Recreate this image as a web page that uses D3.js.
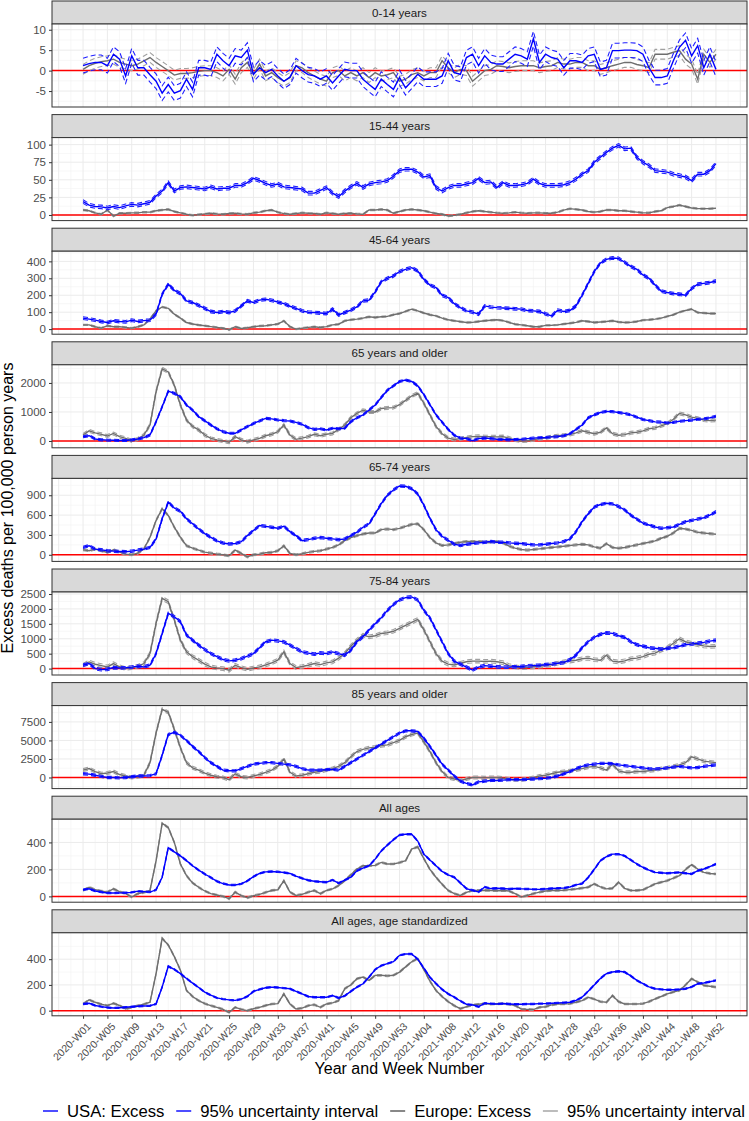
<!DOCTYPE html>
<html><head><meta charset="utf-8">
<script src="https://cdn.jsdelivr.net/npm/d3@7"></script>
<style>
body{margin:0;background:#fff}
svg{display:block}
text{font-family:"Liberation Sans",Arial,Helvetica,sans-serif}
</style>
</head><body>
<svg id="chart" width="749" height="1121"></svg>
<script>
// ---------- categories ----------
const weeks = [];
for (let w = 1; w <= 53; w++) weeks.push("2020-W" + String(w).padStart(2, "0"));
for (let w = 1; w <= 52; w++) weeks.push("2021-W" + String(w).padStart(2, "0"));

const tickLabels = ["2020-W01","2020-W05","2020-W09","2020-W13","2020-W17","2020-W21","2020-W25",
  "2020-W29","2020-W33","2020-W37","2020-W41","2020-W45","2020-W49","2020-W53","2021-W04",
  "2021-W08","2021-W12","2021-W16","2021-W20","2021-W24","2021-W28","2021-W32","2021-W36",
  "2021-W40","2021-W44","2021-W48","2021-W52"];

const panelTitles = ["0-14 years","15-44 years","45-64 years","65 years and older","65-74 years",
  "75-84 years","85 years and older","All ages","All ages, age standardized"];

const seriesNames = ["USA: Excess","95% uncertainty interval","Europe: Excess","95% uncertainty interval"];

// ---------- series values (excess deaths per 100,000 person years) ----------
const usa_0_14 = [1.2,1.7,2,2,1.2,4,2.8,-1.3,3.6,0.7,
 0.7,-1,-2.6,-5.5,-3.4,-5.5,-4.9,-2.1,-4.6,0.7,
 0.7,0.3,4,2.4,1.2,3.6,3.2,5,-0.9,0.7,
 -0.5,0.3,-1.3,-2.6,-1.6,1.2,0,-1,-1.3,-2.1,
 -1.3,-3,-1.3,0.3,0,0,-2.1,-3.4,-4.6,-2.1,
 -3.4,-4.6,-1.7,-4.2,-2.6,-0.9,-2.1,-2.1,-2.1,-1.3,
 2.4,-0.5,-0.9,3.2,4,1.2,3.6,2,1.6,1.6,
 2.8,4,3.6,2.8,7.8,2,4,3.2,2.8,0.7,
 2.4,2.4,2,3.6,4,0.3,0.7,4.9,4.9,5,
 5,4.9,4,0.7,-1.7,-1.7,-1.3,2.4,5.7,7.4,
 3.6,6.1,0.7,4,0.3];
const eur_0_14 = [0.3,1.2,1.8,2.2,2.4,2.8,2,1.6,1.2,1.6,
 2.4,3.2,2,1,0,-1.1,-0.7,-0.7,-0.5,-0.2,
 0,0,-0.5,-1.3,0.3,-2.1,0.7,2,-0.9,1.6,
 -1.3,-0.5,-1.7,-2.6,-1.7,1.2,0.7,-0.5,-1.3,-2.1,
 -2.6,-0.5,0,-1.3,-0.5,-1.3,-0.5,-1.7,-0.5,-1.3,
 -1,-0.5,-2.6,-2.1,-1,-0.5,-1.3,-0.5,-0.5,2.4,
 0.7,-0.5,0.3,0,-2.6,-1.3,0,0.3,1.2,1,
 0.7,1,1.2,1.2,1.2,0.7,1,1.2,2,1.6,
 1.6,2,2,1.2,1.2,0.3,0.7,1.2,1.6,2,
 2,1.5,1.2,0.7,4,4,4,4.5,4.9,2.8,
 1.6,-2.1,4,2,4];

const usa_15_44 = [19,14,12,11.5,10,12,10.5,13,15,14,
 16,18,27,34,46,34,39,40,39,38,
 37,40,37,38,38,42,42,46,52,49,
 45,42,44,40,39,38,37,31,31,35,
 39,31,26,34,40,45,39,44,46,47,
 49,55,63,65,65,61,54,56,39,34,
 39,42,42,44,46,52,46,47,39,46,
 42,42,43,45,51,45,42,42,42,43,
 46,51,58,63,75,82,89,95,99,94,
 95,82,75,70,63,62,61,58,56,54,
 49,58,58,63,73];
const eur_15_44 = [7,6,3,1,7,-1.5,2.4,2.4,3,3,
 4,4,6,7,8,5,3,1,-0.5,0.5,
 1.5,2.4,1.5,1,2,2.4,1.5,1,3,4,
 6,7,4,2,1,2,3,2.4,2,1,
 3,2,1,2,2.4,1.5,1,7,7,8,
 7,2.4,5,7,8,7,6,4,2,1,
 -1.5,-0.5,1,3,5,6,5,4,3,2.4,
 3,4,3,2.4,3,3,2.4,2.4,4,7,
 9,8,7,5,4,5,7,7,6,6,
 5,4,3,3,5,6,10.5,12,14,12,
 10,9,9,9,9.5];

const usa_45_64 = [65,59,53,45,39,49,45,43,53,45,
 50,53,88,206,265,229,210,167,157,140,
 123,104,98,104,98,108,137,167,157,171,
 176,170,160,151,135,123,108,100,98,95,
 92,118,84,98,112,131,167,171,220,280,
 300,314,340,353,363,343,294,260,245,200,
 186,150,127,108,100,88,137,130,127,125,
 123,120,118,110,108,104,90,78,112,104,
 110,137,200,270,340,390,412,420,418,395,
 370,353,320,300,260,225,216,210,206,200,
 240,265,270,275,284];
const eur_45_64 = [25,25,14,6,20,14,14,10,6,14,
 25,59,108,131,123,88,65,39,30,24,
 20,15,10,5,-4,14,4,8,14,18,
 20,25,30,49,14,0,6,10,14,10,
 15,25,29,49,55,59,65,73,69,73,
 75,85,92,105,118,108,95,85,78,65,
 55,49,44,39,40,45,49,52,55,50,
 40,29,25,20,14,14,22,23,25,30,
 35,40,49,45,39,42,45,49,42,39,
 40,45,53,55,59,65,75,85,100,110,
 118,98,95,92,92];

const usa_65plus = [148,180,69,40,30,25,17,17,40,69,
 114,206,663,1177,1715,1640,1525,1240,1065,838,
 700,552,420,323,265,265,380,495,600,690,
 780,760,725,700,690,640,575,460,400,420,
 380,440,420,440,666,800,895,1070,1240,1500,
 1750,1900,2050,2100,2050,1900,1600,1250,900,650,
 400,200,100,80,10,80,100,80,60,50,
 40,50,60,80,100,110,120,140,150,180,
 250,400,550,800,900,980,1020,1010,980,950,
 900,820,740,700,660,650,620,640,680,700,
 720,750,760,800,850];
const eur_65plus = [206,350,280,230,170,260,150,90,0,70,
 206,550,1700,2490,2380,1920,1240,720,500,380,
 206,90,40,0,-46,150,40,-23,40,90,
 180,230,320,550,206,57,100,150,230,180,
 230,260,400,550,800,950,1060,1000,1000,1120,
 1140,1150,1250,1400,1550,1650,1300,900,500,250,
 100,50,80,120,150,160,150,150,140,150,
 100,30,0,10,40,80,100,150,180,200,
 220,280,350,300,250,300,450,250,200,220,
 280,300,350,420,450,520,600,750,950,900,
 820,780,720,700,720];

const usa_65_74 = [112,137,86,75,61,55,50,46,55,71,
 86,112,239,544,798,707,656,544,468,391,
 320,264,210,178,163,170,198,290,366,442,
 430,417,402,432,351,290,214,230,249,260,
 249,240,229,239,290,341,417,468,620,773,
 900,980,1040,1036,1000,920,750,550,380,280,
 220,160,140,160,170,180,190,200,190,190,
 180,175,170,160,150,150,160,170,180,200,
 240,350,500,620,720,760,780,770,730,680,
 600,540,480,450,420,400,410,420,460,500,
 520,540,560,600,650];
const eur_65_74 = [76,61,86,60,36,76,40,10,0,25,
 86,264,519,697,595,417,264,137,100,71,
 40,25,10,0,-15,71,20,-31,0,10,
 30,36,61,137,20,0,15,36,51,61,
 86,112,150,214,260,290,315,330,330,381,
 391,380,400,430,460,470,380,260,180,140,
 150,170,190,200,200,200,195,190,200,180,
 130,100,80,70,80,90,100,110,120,130,
 140,150,160,150,120,100,170,110,100,110,
 130,150,170,190,210,250,280,330,400,390,
 370,340,330,320,310];

const usa_75_84 = [112,168,0,-34,-22,34,22,30,50,78,
 56,112,504,1177,1850,1738,1569,1121,953,785,
 640,504,400,303,258,280,336,415,504,700,
 900,953,930,897,785,673,560,520,482,527,
 504,560,500,448,617,897,1065,1290,1500,1700,
 1950,2150,2300,2380,2400,2300,1950,1700,1300,900,
 500,250,150,50,-50,50,100,80,60,50,
 50,60,70,90,100,110,130,150,180,200,
 300,450,700,900,1050,1150,1200,1180,1100,1050,
 900,800,750,700,680,650,680,700,750,800,
 820,850,880,920,950];
const eur_75_84 = [112,224,146,100,56,168,60,0,34,78,
 168,504,1513,2354,2242,1625,953,560,400,280,
 150,56,20,0,-56,112,30,-22,20,56,
 120,190,280,560,168,34,70,112,168,134,
 190,224,350,504,750,953,1121,1065,1100,1177,
 1200,1250,1350,1450,1550,1650,1300,900,500,250,
 150,120,180,230,250,250,240,250,230,200,
 100,60,30,40,60,80,100,130,180,230,
 250,280,330,350,300,280,450,250,220,260,
 330,350,400,480,520,620,700,850,1000,900,
 850,800,760,740,750];

const usa_85plus = [500,450,300,150,0,0,-50,0,100,200,
 200,250,500,3000,5800,6100,5700,5000,4200,3500,
 2700,2000,1500,1000,900,900,1200,1500,1800,1900,
 2000,2000,1900,1800,1700,1500,1200,1000,1000,1000,
 1050,1100,1000,1500,2000,2500,3000,3500,4000,4500,
 5000,5500,6000,6300,6300,6200,5300,4200,3000,1800,
 1000,200,-500,-800,-1000,-600,-500,-400,-400,-350,
 -300,-300,-300,-250,-200,-150,-100,0,200,500,
 800,1200,1500,1700,1800,1900,1900,1850,1700,1600,
 1500,1400,1300,1200,1150,1200,1300,1400,1500,1400,
 1300,1350,1500,1600,1700];
const eur_85plus = [1000,1200,800,500,600,800,400,200,0,100,
 300,2000,6000,9200,8800,6500,4000,2000,1300,1000,
 600,300,100,0,-300,500,100,0,200,400,
 700,1000,1500,2500,700,200,300,500,700,800,
 1000,1200,1500,2000,2800,3500,3800,4000,4100,4300,
 4400,4700,5000,5500,5800,6000,4800,3500,2000,800,
 0,-200,-400,-200,0,0,-50,0,0,-100,
 -200,-300,-300,-200,0,200,300,500,700,800,
 900,1000,1200,1400,1500,1300,1000,1800,900,700,
 700,800,800,900,1000,1200,1300,1500,1700,2000,
 2800,2500,2200,2100,2000];

const usa_all = [49,56,40,32,25,25,26,27,30,39,
 35,32,49,142,361,330,300,265,227,195,
 166,140,112,95,85,85,93,115,146,170,
 182,185,182,177,170,150,134,120,112,108,
 105,122,98,120,142,190,210,227,276,337,
 380,420,455,460,460,410,313,270,227,185,
 160,142,100,58,45,33,70,58,60,58,
 55,58,56,55,52,52,55,58,60,62,
 70,85,95,140,200,264,295,313,313,300,
 270,240,215,195,178,175,171,175,178,172,
 166,190,203,220,240];
const eur_all = [44,68,49,40,32,56,35,20,-5,20,
 30,44,264,542,510,400,240,154,100,68,
 40,20,10,0,-17,32,5,-10,5,15,
 30,44,49,117,32,7,15,32,44,20,
 44,56,80,117,160,203,227,227,230,252,
 240,240,250,264,350,367,280,200,142,90,
 44,20,7,30,44,44,45,44,42,44,
 40,20,-5,7,20,32,40,44,44,46,
 50,55,62,68,93,70,56,60,105,60,
 44,44,49,70,93,105,117,135,154,200,
 235,203,178,170,166];

const usa_std = [52,57,40,31,24,21,23,26,30,34,
 36,38,52,183,345,320,288,250,214,180,
 144,120,99,90,84,80,90,110,150,165,
 178,183,180,175,170,150,131,110,104,104,
 104,117,99,115,150,183,209,261,320,350,
 365,380,430,440,440,400,330,260,210,165,
 130,105,75,50,45,30,58,55,52,55,
 52,50,50,52,52,55,55,57,60,62,
 65,80,104,150,200,250,288,300,306,300,
 270,235,210,185,170,165,162,162,165,170,
 185,209,215,225,235];
const eur_std = [52,84,65,50,39,57,40,13,26,39,
 50,65,287,562,510,420,314,157,110,78,
 55,39,26,10,-13,26,10,0,15,26,
 40,52,55,131,52,13,20,39,47,26,
 52,60,78,170,200,248,261,235,274,275,
 270,275,300,340,380,405,320,230,157,110,
 70,39,15,30,45,50,55,50,52,55,
 50,40,13,10,8,26,30,45,52,52,
 55,65,78,104,90,70,65,117,70,52,
 52,52,55,70,91,110,130,145,157,200,
 248,222,196,190,183];

// half-widths of the 95% uncertainty intervals, read per panel
const usaHalfCI = [1.8, 2.5, 8, 35, 18, 45, 150, 5, 5];
const eurHalfCI = [1.2, 1.0, 4, 50, 15, 60, 200, 6, 6];

// y axis settings per panel
const yDomains = [[-8.9,11.4],[-8,110],[-30,460],[-235,2625],[-100,1155],[-215,2567],[-1500,9700],[-43,572],[-40,605]];
const yTickValues = [[-5,0,5,10],[0,25,50,75,100],[0,100,200,300,400],[0,1000,2000],[0,300,600,900],
  [0,500,1000,1500,2000,2500],[0,2500,5000,7500],[0,200,400],[0,200,400]];

const usaSeries = [usa_0_14, usa_15_44, usa_45_64, usa_65plus, usa_65_74, usa_75_84, usa_85plus, usa_all, usa_std];
const eurSeries = [eur_0_14, eur_15_44, eur_45_64, eur_65plus, eur_65_74, eur_75_84, eur_85plus, eur_all, eur_std];

// ---------- layout ----------
const colUSA = "#0000FF", colUSAci = "#1F1FFF", colEur = "#6E6E6E", colEurCI = "#A0A0A0";
const left = 52, right = 747;
const firstTop = 1, pitch = 113.6, stripH = 23, plotH = 83;

const svg = d3.select("#chart");
const x = d3.scaleLinear().domain([-5.1, 109.1]).range([left, right]);
const majorX = d3.range(-4, 110, 4);
const minorX = d3.range(-2, 110, 4);

panelTitles.forEach((title, k) => {
  const stripTop = firstTop + pitch * k;
  const top = stripTop + stripH, bottom = top + plotH;
  const y = d3.scaleLinear().domain(yDomains[k]).range([bottom, top]);
  const g = svg.append("g");

  // strip
  g.append("rect").attr("x", left).attr("y", stripTop).attr("width", right - left).attr("height", stripH)
    .attr("fill", "#D9D9D9").attr("stroke", "#333333").attr("stroke-width", 1);
  g.append("text").attr("x", (left + right) / 2).attr("y", stripTop + stripH / 2).attr("dy", "0.36em")
    .attr("text-anchor", "middle").attr("font-size", "11.6px").attr("fill", "#1A1A1A").text(title);

  // panel background + grid
  g.append("rect").attr("x", left).attr("y", top).attr("width", right - left).attr("height", plotH).attr("fill", "#fff");
  const clipId = "clip" + k;
  svg.append("clipPath").attr("id", clipId).append("rect")
    .attr("x", left).attr("y", top).attr("width", right - left).attr("height", plotH);
  const grid = g.append("g").attr("clip-path", `url(#${clipId})`);
  const ticks = yTickValues[k];
  const step = ticks[1] - ticks[0];
  const yMinor = [];
  for (let v = ticks[0] - step / 2; v <= yDomains[k][1]; v += step) if (v >= yDomains[k][0]) yMinor.push(v);
  grid.selectAll(".vmin").data(minorX).join("line")
    .attr("x1", d => x(d)).attr("x2", d => x(d)).attr("y1", top).attr("y2", bottom)
    .attr("stroke", "#F2F2F2").attr("stroke-width", 0.6);
  grid.selectAll(".hmin").data(yMinor).join("line")
    .attr("x1", left).attr("x2", right).attr("y1", d => y(d)).attr("y2", d => y(d))
    .attr("stroke", "#F2F2F2").attr("stroke-width", 0.6);
  grid.selectAll(".vmaj").data(majorX).join("line")
    .attr("x1", d => x(d)).attr("x2", d => x(d)).attr("y1", top).attr("y2", bottom)
    .attr("stroke", "#EBEBEB").attr("stroke-width", 1);
  grid.selectAll(".hmaj").data(ticks).join("line")
    .attr("x1", left).attr("x2", right).attr("y1", d => y(d)).attr("y2", d => y(d))
    .attr("stroke", "#EBEBEB").attr("stroke-width", 1);

  // zero line
  grid.append("line").attr("x1", left).attr("x2", right).attr("y1", y(0)).attr("y2", y(0))
    .attr("stroke", "#FF0000").attr("stroke-width", 1.5);

  const line = d3.line().x((d, i) => x(i)).y(d => y(d));
  const lineLo = h => d3.line().x((d, i) => x(i)).y(d => y(d - h));
  const lineHi = h => d3.line().x((d, i) => x(i)).y(d => y(d + h));
  const eu = eurSeries[k], us = usaSeries[k];
  const data = grid.append("g");
  // Europe
  [lineLo(eurHalfCI[k]), lineHi(eurHalfCI[k])].forEach(gen =>
    data.append("path").attr("d", gen(eu)).attr("fill", "none").attr("stroke", colEurCI)
      .attr("stroke-width", 1.1).attr("stroke-dasharray", "5,3"));
  data.append("path").attr("d", line(eu)).attr("fill", "none").attr("stroke", colEur).attr("stroke-width", 1.4);
  // USA
  [lineLo(usaHalfCI[k]), lineHi(usaHalfCI[k])].forEach(gen =>
    data.append("path").attr("d", gen(us)).attr("fill", "none").attr("stroke", colUSAci)
      .attr("stroke-width", 1.1).attr("stroke-dasharray", "5,3"));
  data.append("path").attr("d", line(us)).attr("fill", "none").attr("stroke", colUSA).attr("stroke-width", 1.4);

  // border
  g.append("rect").attr("x", left).attr("y", top).attr("width", right - left).attr("height", plotH)
    .attr("fill", "none").attr("stroke", "#333333").attr("stroke-width", 1);

  // y axis
  const ya = g.append("g").attr("transform", `translate(${left},0)`)
    .call(d3.axisLeft(y).tickValues(ticks).tickSize(3).tickPadding(3).tickFormat(d => String(d)));
  ya.select(".domain").remove();
  ya.selectAll("line").attr("stroke", "#333333");
  ya.selectAll("text").attr("font-size", "11.5px").attr("fill", "#4D4D4D").attr("font-family", null);

  if (k === panelTitles.length - 1) {
    const tickIdx = tickLabels.map(l => weeks.indexOf(l));
    const xa = g.append("g").attr("transform", `translate(0,${bottom})`)
      .call(d3.axisBottom(x).tickValues(tickIdx).tickSize(3).tickFormat((d, i) => tickLabels[i]));
    xa.select(".domain").remove();
    xa.selectAll("line").attr("stroke", "#333333");
    xa.selectAll("text").attr("font-size", "10.5px").attr("fill", "#4D4D4D").attr("font-family", null)
      .attr("text-anchor", "end").attr("dy", "0.7em").attr("y", 0)
      .attr("transform", "translate(3,6) rotate(-45)");
  }
});

// axis titles
svg.append("text").attr("x", (left + right) / 2).attr("y", 1074).attr("text-anchor", "middle")
  .attr("font-size", "16px").attr("fill", "#000").text("Year and Week Number");
svg.append("text").attr("transform", `translate(13,508) rotate(-90)`).attr("text-anchor", "middle")
  .attr("font-size", "16px").attr("fill", "#000").text("Excess deaths per 100,000 person years");

// legend: spans from x=43 to x=745 as in the reference
const legCols = [colUSA, colUSA, "#555555", "#A0A0A0"];
const legY = 1111, legStart = 43, legEnd = 745, keyLen = 15, keyGap = 9;
const leg = svg.append("g");
const items = seriesNames.map((name, i) => {
  const ln = leg.append("line").attr("y1", legY).attr("y2", legY)
    .attr("stroke", legCols[i]).attr("stroke-width", 1.4);
  const t = leg.append("text").attr("y", legY).attr("dy", "0.36em")
    .attr("font-size", "16.7px").attr("fill", "#000").text(name);
  return {ln, t, w: t.node().getComputedTextLength()};
});
const used = d3.sum(items, d => keyLen + keyGap + d.w);
const between = (legEnd - legStart - used) / (items.length - 1);
let cx = legStart;
items.forEach(d => {
  d.ln.attr("x1", cx).attr("x2", cx + keyLen);
  d.t.attr("x", cx + keyLen + keyGap);
  cx += keyLen + keyGap + d.w + between;
});
</script>
</body></html>
